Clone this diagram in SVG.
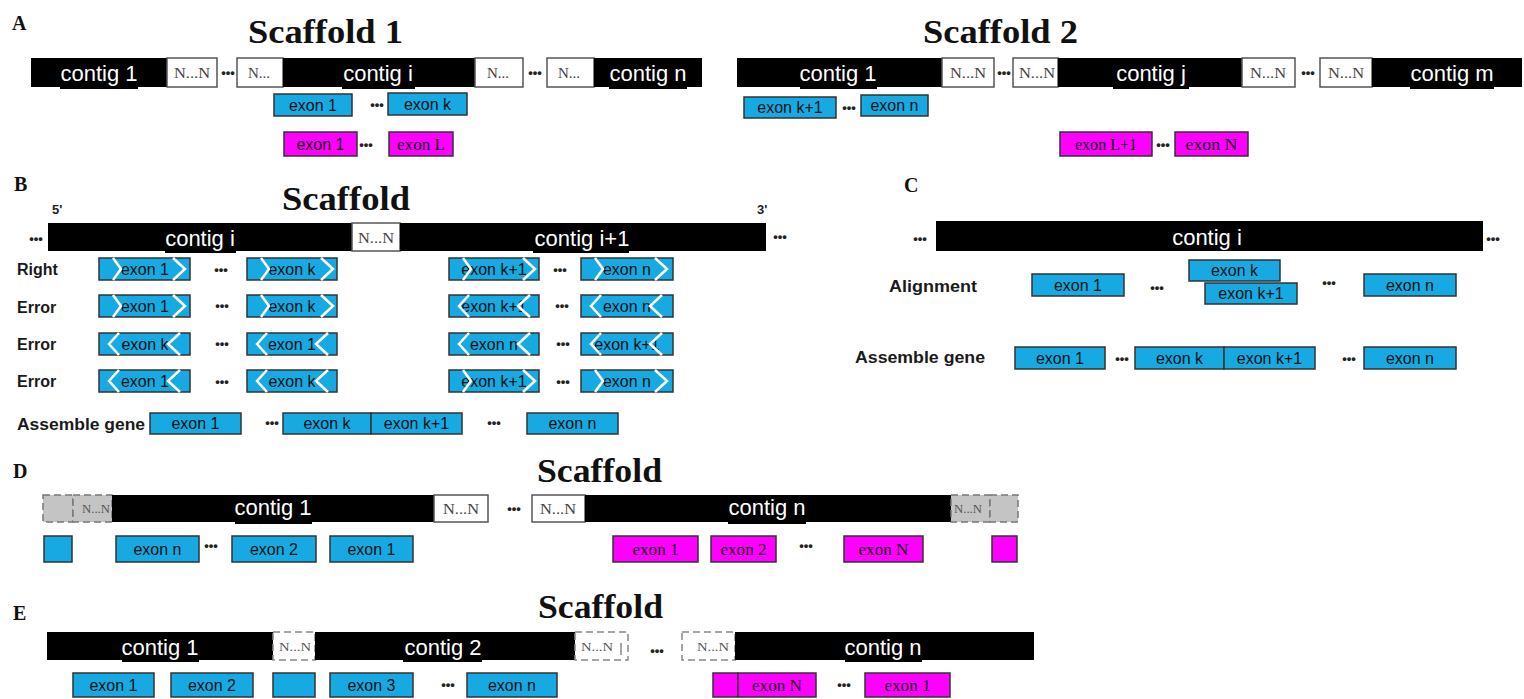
<svg xmlns="http://www.w3.org/2000/svg" xmlns:xlink="http://www.w3.org/1999/xlink" width="1524" height="699" viewBox="0 0 1524 699">
<style>
.bar{fill:#000}
.gap{fill:#fff;stroke:#555;stroke-width:1.5}
.gapd{fill:#fff;stroke:#888;stroke-width:1.5;stroke-dasharray:7 4}
.gapg{fill:#c4c4c4;stroke:#777;stroke-width:1.5;stroke-dasharray:7 4}
.cy{fill:#17a9e1;stroke:#333;stroke-width:1.5}
.mg{fill:#ff00ff;stroke:#333;stroke-width:1.5}
.ct{font-family:"Liberation Sans",Arial,sans-serif;font-size:22px;fill:#fff;text-anchor:middle}
.nn{font-family:"Liberation Serif","Times New Roman",serif;font-size:15px;fill:#444;text-anchor:middle}
.nns{font-family:"Liberation Serif","Times New Roman",serif;font-size:12px;fill:#555;text-anchor:middle}
.ex{font-family:"Liberation Sans",Arial,sans-serif;font-size:16px;fill:#111;text-anchor:middle}
.exs{font-family:"Liberation Serif","Times New Roman",serif;font-size:17px;fill:#111;text-anchor:middle}
.dots{font-family:"Liberation Sans",Arial,sans-serif;font-size:13px;font-weight:bold;fill:#222;text-anchor:middle}
.lab{font-family:"Liberation Serif","Times New Roman",serif;font-size:20px;font-weight:bold;fill:#111}
.ttl{font-family:"Liberation Serif","Times New Roman",serif;font-size:33px;font-weight:bold;fill:#111}
.row{font-family:"Liberation Sans",Arial,sans-serif;font-size:16px;font-weight:bold;fill:#1a1a1a}
.end{font-family:"Liberation Sans",Arial,sans-serif;font-size:13px;font-weight:bold;fill:#222}
.chev{fill:none;stroke:#fff;stroke-width:2.5;stroke-linejoin:miter}
</style>
<defs>
<path id="chR" class="chev" d="M14,0 L22,11 L14,22 M74,0 L86,11 L74,22"/>
<path id="chL" class="chev" d="M20,0 L10,11 L20,22 M81,0 L69,11 L81,22"/>
</defs>

<!-- Panel A -->
<g id="panelA">
<text class="lab" x="12" y="30">A</text>
<text class="ttl" x="248" y="43" textLength="155" lengthAdjust="spacingAndGlyphs">Scaffold 1</text>
<g id="a1-contig1"><rect class="bar" x="31" y="58" width="136" height="29"/><rect class="bar" x="60" y="84" width="78" height="5"/><text class="ct" x="99" y="81">contig 1</text></g>
<g id="a1-gap1"><rect class="gap" x="167" y="58" width="50" height="29"/><text class="nn" x="192" y="78" textLength="36" lengthAdjust="spacingAndGlyphs">N...N</text></g>
<text class="dots" x="228" y="77">•••</text>
<g id="a1-gap2"><rect class="gap" x="237" y="58" width="46" height="29"/><text class="nn" x="259" y="78">N...</text></g>
<g id="a1-contigi"><rect class="bar" x="283" y="58" width="192" height="29"/><rect class="bar" x="342" y="84" width="73" height="5"/><text class="ct" x="378" y="81">contig i</text></g>
<g id="a1-gap3"><rect class="gap" x="475" y="58" width="48" height="29"/><text class="nn" x="498" y="78">N...</text></g>
<text class="dots" x="535" y="77">•••</text>
<g id="a1-gap4"><rect class="gap" x="547" y="58" width="47" height="29"/><text class="nn" x="569" y="78">N...</text></g>
<g id="a1-contign"><rect class="bar" x="594" y="58" width="108" height="29"/><rect class="bar" x="609" y="84" width="78" height="5"/><text class="ct" x="648" y="81">contig n</text></g>
<g id="a1-exon1"><rect class="cy" x="274" y="94" width="78" height="22"/><text class="ex" x="313" y="110.5">exon 1</text></g>
<text class="dots" x="377" y="109">•••</text>
<g id="a1-exonk"><rect class="cy" x="388" y="93" width="79" height="22"/><text class="ex" x="427.5" y="109.5">exon k</text></g>
<g id="a1-mexon1"><rect class="mg" x="284" y="132" width="73" height="24"/><text class="ex" x="320.5" y="149.5">exon 1</text></g>
<text class="dots" x="366" y="149">•••</text>
<g id="a1-mexonL"><rect class="mg" x="389" y="132" width="64" height="24"/><text class="exs" x="421" y="150" textLength="48" lengthAdjust="spacingAndGlyphs">exon L</text></g>

<text class="ttl" x="923" y="43" textLength="155" lengthAdjust="spacingAndGlyphs">Scaffold 2</text>
<g id="a2-contig1"><rect class="bar" x="737" y="58" width="205" height="29"/><rect class="bar" x="800" y="84" width="77" height="5"/><text class="ct" x="838" y="81">contig 1</text></g>
<g id="a2-gap1"><rect class="gap" x="942" y="58" width="52" height="29"/><text class="nn" x="968" y="78" textLength="36" lengthAdjust="spacingAndGlyphs">N...N</text></g>
<text class="dots" x="1004" y="77">•••</text>
<g id="a2-gap2"><rect class="gap" x="1013" y="58" width="45" height="29"/><text class="nn" x="1037" y="78" textLength="36" lengthAdjust="spacingAndGlyphs">N...N</text></g>
<g id="a2-contigj"><rect class="bar" x="1058" y="58" width="184" height="29"/><rect class="bar" x="1113" y="84" width="76" height="5"/><text class="ct" x="1151" y="81">contig j</text></g>
<g id="a2-gap3"><rect class="gap" x="1242" y="58" width="53" height="29"/><text class="nn" x="1268" y="78" textLength="36" lengthAdjust="spacingAndGlyphs">N...N</text></g>
<text class="dots" x="1308" y="77">•••</text>
<g id="a2-gap4"><rect class="gap" x="1320" y="58" width="52" height="29"/><text class="nn" x="1346" y="78" textLength="36" lengthAdjust="spacingAndGlyphs">N...N</text></g>
<g id="a2-contigm"><rect class="bar" x="1372" y="58" width="150" height="29"/><rect class="bar" x="1410" y="84" width="84" height="5"/><text class="ct" x="1452" y="81">contig m</text></g>
<g id="a2-exonk1"><rect class="cy" x="744" y="97" width="92" height="21"/><text class="ex" x="790" y="113">exon k+1</text></g>
<text class="dots" x="849" y="112">•••</text>
<g id="a2-exonn"><rect class="cy" x="861" y="95" width="67" height="21"/><text class="ex" x="894.5" y="111">exon n</text></g>
<g id="a2-mexonL1"><rect class="mg" x="1060" y="132" width="92" height="24"/><text class="exs" x="1106" y="150" textLength="62" lengthAdjust="spacingAndGlyphs">exon L+1</text></g>
<text class="dots" x="1163" y="149">•••</text>
<g id="a2-mexonN"><rect class="mg" x="1175" y="132" width="73" height="24"/><text class="exs" x="1211.5" y="150" textLength="52" lengthAdjust="spacingAndGlyphs">exon N</text></g>
</g>

<!-- Panel B -->
<g id="panelB">
<text class="lab" x="14" y="191">B</text>
<text class="ttl" x="282" y="210" textLength="128" lengthAdjust="spacingAndGlyphs">Scaffold</text>
<text class="end" x="52" y="214">5'</text>
<text class="end" x="757" y="214">3'</text>
<text class="dots" x="36" y="243">•••</text>
<g id="b-contigi"><rect class="bar" x="48" y="223" width="304" height="28"/><rect class="bar" x="165" y="248" width="71" height="5"/><text class="ct" x="200" y="246">contig i</text></g>
<g id="b-gap"><rect class="gap" x="352" y="223" width="48" height="28"/><text class="nn" x="376" y="243" textLength="36" lengthAdjust="spacingAndGlyphs">N...N</text></g>
<g id="b-contigi1"><rect class="bar" x="400" y="223" width="366" height="28"/><rect class="bar" x="533" y="248" width="96" height="5"/><text class="ct" x="582" y="246">contig i+1</text></g>
<text class="dots" x="780" y="241">•••</text>

<text class="row" x="17" y="275">Right</text>
<text class="row" x="17" y="313">Error</text>
<text class="row" x="17" y="350">Error</text>
<text class="row" x="17" y="387">Error</text>

<g id="b-r1">
<g id="b-r1c1"><rect class="cy" x="99" y="258" width="91" height="22"/><text class="ex" x="145" y="274.5">exon 1</text><use xlink:href="#chR" x="99" y="258"/></g>
<text class="dots" x="221" y="274">•••</text>
<g id="b-r1c2"><rect class="cy" x="247" y="258" width="90" height="22"/><text class="ex" x="292" y="274.5">exon k</text><use xlink:href="#chR" x="247" y="258"/></g>
<g id="b-r1c3"><rect class="cy" x="449" y="258" width="90" height="22"/><text class="ex" x="494" y="274.5">exon k+1</text><use xlink:href="#chR" x="449" y="258"/></g>
<text class="dots" x="560" y="274">•••</text>
<g id="b-r1c4"><rect class="cy" x="581" y="258" width="92" height="22"/><text class="ex" x="627" y="274.5">exon n</text><use xlink:href="#chR" x="581" y="258"/></g>
</g>
<g id="b-r2">
<g id="b-r2c1"><rect class="cy" x="99" y="295" width="91" height="22"/><text class="ex" x="145" y="311.5">exon 1</text><use xlink:href="#chR" x="99" y="295"/></g>
<text class="dots" x="222" y="310">•••</text>
<g id="b-r2c2"><rect class="cy" x="247" y="295" width="90" height="22"/><text class="ex" x="292" y="311.5">exon k</text><use xlink:href="#chR" x="247" y="295"/></g>
<g id="b-r2c3"><rect class="cy" x="449" y="295" width="90" height="22"/><text class="ex" x="494" y="311.5">exon k+1</text><use xlink:href="#chL" x="449" y="295"/></g>
<text class="dots" x="562" y="310">•••</text>
<g id="b-r2c4"><rect class="cy" x="581" y="295" width="92" height="22"/><text class="ex" x="627" y="311.5">exon n</text><use xlink:href="#chL" x="581" y="295"/></g>
</g>
<g id="b-r3">
<g id="b-r3c1"><rect class="cy" x="99" y="333" width="91" height="22"/><text class="ex" x="145" y="349.5">exon k</text><use xlink:href="#chL" x="99" y="333"/></g>
<text class="dots" x="222" y="348">•••</text>
<g id="b-r3c2"><rect class="cy" x="247" y="333" width="90" height="22"/><text class="ex" x="292" y="349.5">exon 1</text><use xlink:href="#chL" x="247" y="333"/></g>
<g id="b-r3c3"><rect class="cy" x="449" y="333" width="90" height="22"/><text class="ex" x="494" y="349.5">exon n</text><use xlink:href="#chL" x="449" y="333"/></g>
<text class="dots" x="563" y="348">•••</text>
<g id="b-r3c4"><rect class="cy" x="581" y="333" width="92" height="22"/><text class="ex" x="627" y="349.5">exon k+1</text><use xlink:href="#chL" x="581" y="333"/></g>
</g>
<g id="b-r4">
<g id="b-r4c1"><rect class="cy" x="99" y="370" width="91" height="22"/><text class="ex" x="145" y="386.5">exon 1</text><use xlink:href="#chL" x="99" y="370"/></g>
<text class="dots" x="222" y="386">•••</text>
<g id="b-r4c2"><rect class="cy" x="247" y="370" width="90" height="22"/><text class="ex" x="292" y="386.5">exon k</text><use xlink:href="#chL" x="247" y="370"/></g>
<g id="b-r4c3"><rect class="cy" x="449" y="370" width="90" height="22"/><text class="ex" x="494" y="386.5">exon k+1</text><use xlink:href="#chR" x="449" y="370"/></g>
<text class="dots" x="563" y="386">•••</text>
<g id="b-r4c4"><rect class="cy" x="581" y="370" width="92" height="22"/><text class="ex" x="627" y="386.5">exon n</text><use xlink:href="#chR" x="581" y="370"/></g>
</g>

<text class="row" x="17" y="430" textLength="128" lengthAdjust="spacingAndGlyphs">Assemble gene</text>
<g id="b-as1"><rect class="cy" x="150" y="413" width="91" height="21"/><text class="ex" x="195.5" y="429">exon 1</text></g>
<text class="dots" x="272" y="427">•••</text>
<g id="b-ask"><rect class="cy" x="283" y="413" width="88" height="21"/><text class="ex" x="327" y="429">exon k</text></g>
<g id="b-ask1"><rect class="cy" x="371" y="413" width="91" height="21"/><text class="ex" x="416.5" y="429">exon k+1</text></g>
<text class="dots" x="494" y="427">•••</text>
<g id="b-asn"><rect class="cy" x="527" y="413" width="91" height="21"/><text class="ex" x="572.5" y="429">exon n</text></g>
</g>

<!-- Panel C -->
<g id="panelC">
<text class="lab" x="904" y="192">C</text>
<text class="dots" x="920" y="243">•••</text>
<g id="c-contigi"><rect class="bar" x="936" y="221" width="547" height="30"/><text class="ct" x="1207" y="245">contig i</text></g>
<text class="dots" x="1493" y="243">•••</text>
<text class="row" x="889" y="292" textLength="88" lengthAdjust="spacingAndGlyphs">Alignment</text>
<g id="c-al1"><rect class="cy" x="1032" y="274" width="92" height="22"/><text class="ex" x="1078" y="290.5">exon 1</text></g>
<text class="dots" x="1157" y="292">•••</text>
<g id="c-alk"><rect class="cy" x="1189" y="260" width="91" height="21"/><text class="ex" x="1234.5" y="276">exon k</text></g>
<g id="c-alk1"><rect class="cy" x="1205" y="283" width="92" height="21"/><text class="ex" x="1251" y="299">exon k+1</text></g>
<text class="dots" x="1329" y="287">•••</text>
<g id="c-aln"><rect class="cy" x="1364" y="274" width="92" height="22"/><text class="ex" x="1410" y="290.5">exon n</text></g>
<text class="row" x="855" y="363" textLength="130" lengthAdjust="spacingAndGlyphs">Assemble gene</text>
<g id="c-as1"><rect class="cy" x="1015" y="347" width="90" height="22"/><text class="ex" x="1060" y="363.5">exon 1</text></g>
<text class="dots" x="1122" y="363">•••</text>
<g id="c-ask"><rect class="cy" x="1135" y="347" width="89" height="22"/><text class="ex" x="1179.5" y="363.5">exon k</text></g>
<g id="c-ask1"><rect class="cy" x="1224" y="347" width="91" height="22"/><text class="ex" x="1269.5" y="363.5">exon k+1</text></g>
<text class="dots" x="1349" y="363">•••</text>
<g id="c-asn"><rect class="cy" x="1364" y="347" width="92" height="22"/><text class="ex" x="1410" y="363.5">exon n</text></g>
</g>

<!-- Panel D -->
<g id="panelD">
<text class="lab" x="13" y="478">D</text>
<text class="ttl" x="537" y="482" textLength="125" lengthAdjust="spacingAndGlyphs">Scaffold</text>
<g id="d-g0"><rect class="gapg" x="43" y="495" width="30" height="27"/></g>
<g id="d-g1"><rect class="gapg" x="73" y="495" width="39" height="27"/><text class="nns" x="96" y="513" textLength="28" lengthAdjust="spacingAndGlyphs">N...N</text></g>
<g id="d-contig1"><rect class="bar" x="112" y="495" width="322" height="27"/><rect class="bar" x="235" y="519" width="77" height="5"/><text class="ct" x="273" y="515">contig 1</text></g>
<g id="d-g2"><rect class="gap" x="434" y="495" width="54" height="27"/><text class="nn" x="461" y="514" textLength="36" lengthAdjust="spacingAndGlyphs">N...N</text></g>
<text class="dots" x="514" y="513">•••</text>
<g id="d-g3"><rect class="gap" x="532" y="495" width="53" height="27"/><text class="nn" x="558" y="514" textLength="36" lengthAdjust="spacingAndGlyphs">N...N</text></g>
<g id="d-contign"><rect class="bar" x="585" y="495" width="366" height="27"/><rect class="bar" x="728" y="519" width="78" height="5"/><text class="ct" x="767" y="515">contig n</text></g>
<g id="d-g4"><rect class="gapg" x="951" y="495" width="39" height="27"/><text class="nns" x="968" y="513" textLength="28" lengthAdjust="spacingAndGlyphs">N...N</text></g>
<g id="d-g5"><rect class="gapg" x="990" y="495" width="28" height="27"/></g>
<g id="d-e0"><rect class="cy" x="44" y="536" width="28" height="26"/></g>
<g id="d-en"><rect class="cy" x="116" y="536" width="83" height="26"/><text class="ex" x="157.5" y="555">exon n</text></g>
<text class="dots" x="211" y="550">•••</text>
<g id="d-e2"><rect class="cy" x="232" y="536" width="84" height="26"/><text class="ex" x="274" y="555">exon 2</text></g>
<g id="d-e1"><rect class="cy" x="330" y="536" width="83" height="26"/><text class="ex" x="371.5" y="555">exon 1</text></g>
<g id="d-m1"><rect class="mg" x="613" y="536" width="85" height="26"/><text class="exs" x="655.5" y="555" textLength="46" lengthAdjust="spacingAndGlyphs">exon 1</text></g>
<g id="d-m2"><rect class="mg" x="711" y="536" width="65" height="26"/><text class="exs" x="743.5" y="555" textLength="46" lengthAdjust="spacingAndGlyphs">exon 2</text></g>
<text class="dots" x="806" y="550">•••</text>
<g id="d-mN"><rect class="mg" x="844" y="536" width="79" height="26"/><text class="exs" x="883.5" y="555" textLength="50" lengthAdjust="spacingAndGlyphs">exon N</text></g>
<g id="d-m0"><rect class="mg" x="992" y="536" width="25" height="26"/></g>
</g>

<!-- Panel E -->
<g id="panelE">
<text class="lab" x="13" y="620">E</text>
<text class="ttl" x="538" y="618" textLength="125" lengthAdjust="spacingAndGlyphs">Scaffold</text>
<g id="e-contig1"><rect class="bar" x="47" y="632" width="226" height="28"/><rect class="bar" x="122" y="657" width="77" height="5"/><text class="ct" x="160" y="655">contig 1</text></g>
<g id="e-g1"><rect class="gapd" x="273" y="632" width="42" height="28"/><text class="nns" x="295" y="651" textLength="32" lengthAdjust="spacingAndGlyphs">N...N</text></g>
<g id="e-contig2"><rect class="bar" x="315" y="632" width="260" height="28"/><rect class="bar" x="403" y="657" width="79" height="5"/><text class="ct" x="443" y="655">contig 2</text></g>
<g id="e-g2"><rect class="gapd" x="575" y="632" width="53" height="28"/><line x1="621" y1="643" x2="621" y2="655" stroke="#888" stroke-width="1.5"/><text class="nns" x="597" y="651" textLength="32" lengthAdjust="spacingAndGlyphs">N...N</text></g>
<text class="dots" x="657" y="655">•••</text>
<g id="e-g3"><rect class="gapd" x="682" y="632" width="53" height="28"/><text class="nns" x="713" y="651" textLength="32" lengthAdjust="spacingAndGlyphs">N...N</text></g>
<g id="e-contign"><rect class="bar" x="735" y="632" width="299" height="28"/><rect class="bar" x="845" y="657" width="77" height="5"/><text class="ct" x="883" y="655">contig n</text></g>
<g id="e-e1"><rect class="cy" x="73" y="673" width="81" height="24"/><text class="ex" x="113.5" y="690.5">exon 1</text></g>
<g id="e-e2"><rect class="cy" x="171" y="673" width="82" height="24"/><text class="ex" x="212" y="690.5">exon 2</text></g>
<g id="e-e0"><rect class="cy" x="273" y="673" width="42" height="24"/></g>
<g id="e-e3"><rect class="cy" x="330" y="673" width="83" height="24"/><text class="ex" x="371.5" y="690.5">exon 3</text></g>
<text class="dots" x="448" y="689">•••</text>
<g id="e-en"><rect class="cy" x="467" y="673" width="90" height="24"/><text class="ex" x="512" y="690.5">exon n</text></g>
<g id="e-m0"><rect class="mg" x="713" y="673" width="25" height="24"/></g>
<g id="e-mN"><rect class="mg" x="738" y="673" width="78" height="24"/><text class="exs" x="777" y="691" textLength="50" lengthAdjust="spacingAndGlyphs">exon N</text></g>
<text class="dots" x="844" y="689">•••</text>
<g id="e-m1"><rect class="mg" x="865" y="673" width="85" height="24"/><text class="exs" x="907.5" y="691" textLength="46" lengthAdjust="spacingAndGlyphs">exon 1</text></g>
</g>
</svg>
